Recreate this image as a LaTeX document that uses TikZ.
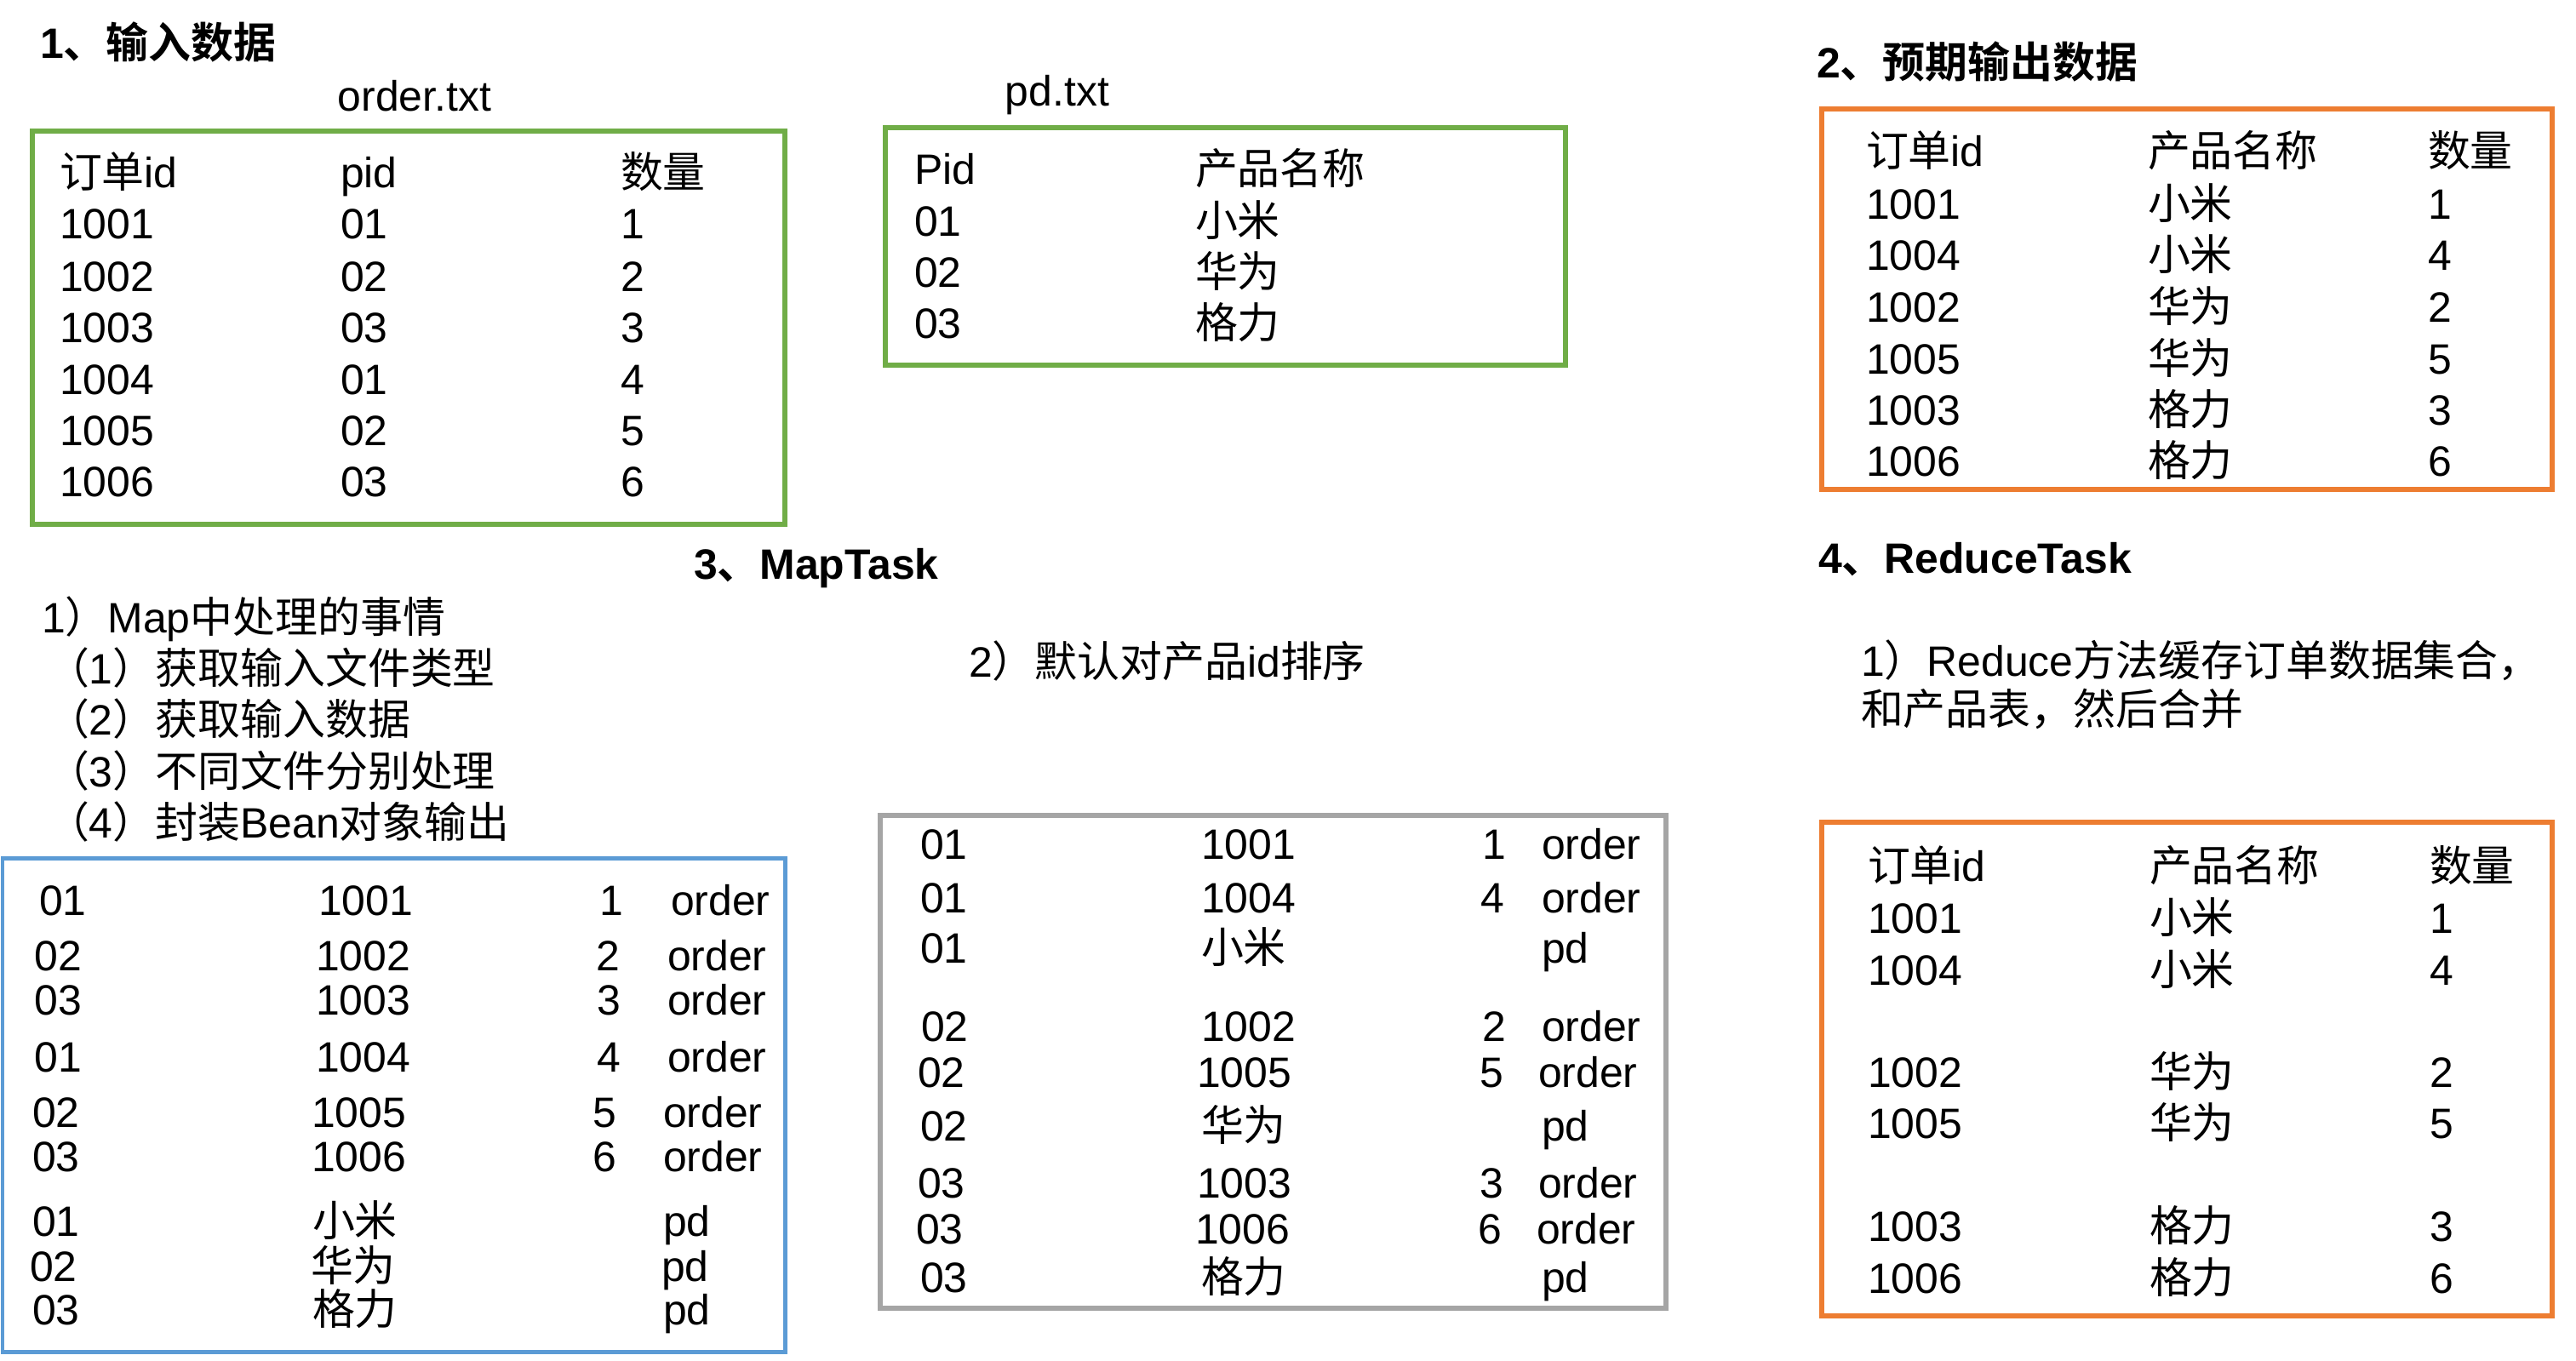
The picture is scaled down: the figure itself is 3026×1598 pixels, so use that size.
\documentclass[tikz,border=0pt]{standalone}
\usepackage{fontspec}
\setmainfont{Liberation Sans}
\newfontfamily\cjk{Noto Sans CJK SC}[BoldFont={Noto Sans CJK SC Bold}]
\newcommand\zh[1]{{\cjk #1}}
\newcommand\fs{\fontsize{14.2pt}{17pt}\selectfont}
\definecolor{cgreen}{HTML}{70AD47}
\definecolor{corange}{HTML}{ED7D31}
\definecolor{cblue}{HTML}{5B9BD5}
\definecolor{cgrey}{HTML}{A5A5A5}
\begin{document}
\begin{tikzpicture}[x=0.1mm,y=-0.1mm,
  txt/.style={anchor=base west, inner sep=0pt, outer sep=0pt, font=\fs},
  ttl/.style={txt, font=\fs\bfseries},
  grnbox/.style={draw=cgreen, line width=0.55mm},
  orgbox/.style={draw=corange, line width=0.55mm},
  blubox/.style={draw=cblue, line width=0.5mm},
  grybox/.style={draw=cgrey, line width=0.55mm}]
\useasboundingbox (0,0) rectangle (3026,1598);

% titles
\node[ttl] (t1) at (47,69) {1\zh{、输入数据}};
\node[ttl] (t2) at (2134,92) {2\zh{、预期输出数据}};
\node[ttl] (t3) at (815,680) {3\zh{、}MapTask};
\node[ttl] (t4) at (2136,673) {4\zh{、}ReduceTask};
\node[txt, anchor=base] (f1) at (487,131) {order.txt};
\node[txt, anchor=base] (f2) at (1242,125) {pd.txt};

% text
\node[txt] (m1) at (49,743) {1\zh{）}Map\zh{中处理的事情}};
\node[txt] (m1a) at (55,803) {\zh{（}1\zh{）获取输入文件类型}};
\node[txt] (m1b) at (55,863) {\zh{（}2\zh{）获取输入数据}};
\node[txt] (m1c) at (55,924) {\zh{（}3\zh{）不同文件分别处理}};
\node[txt] (m1d) at (55,984) {\zh{（}4\zh{）封装}Bean\zh{对象输出}};
\node[txt] (m2) at (1138,795) {2\zh{）默认对产品}id\zh{排序}};
\node[txt] (r1) at (2186,794) {1\zh{）}Reduce\zh{方法缓存订单数据集合，}};
\node[txt] (r2) at (2186,851) {\zh{和产品表，然后合并}};

% order.txt
\draw[grnbox] (38,154) rectangle (922,616);
\foreach \y/\a/\b/\c [count=\i] in {221/\zh{订单}id/pid/\zh{数量},281/1001/01/1,342/1002/02/2,402/1003/03/3,463/1004/01/4,523/1005/02/5,583/1006/03/6}{
  \node[txt] (ord-\i-a) at (70,\y) {\a};
  \node[txt] (ord-\i-b) at (400,\y) {\b};
  \node[txt] (ord-\i-c) at (729,\y) {\c};
}

% pd.txt
\draw[grnbox] (1040,150) rectangle (1839,429);
\foreach \y/\a/\b [count=\i] in {216/Pid/\zh{产品名称},277/01/\zh{小米},337/02/\zh{华为},397/03/\zh{格力}}{
  \node[txt] (pd-\i-a) at (1074,\y) {\a};
  \node[txt] (pd-\i-b) at (1404,\y) {\b};
}

% expected output
\draw[orgbox] (2140,128) rectangle (2998,575);
\foreach \y/\a/\b/\c [count=\i] in {196/\zh{订单}id/\zh{产品名称}/\zh{数量},257/1001/\zh{小米}/1,317/1004/\zh{小米}/4,378/1002/\zh{华为}/2,439/1005/\zh{华为}/5,499/1003/\zh{格力}/3,559/1006/\zh{格力}/6}{
  \node[txt] (exp-\i-a) at (2192,\y) {\a};
  \node[txt] (exp-\i-b) at (2523,\y) {\b};
  \node[txt] (exp-\i-c) at (2852,\y) {\c};
}

% map output
\draw[blubox] (3,1008) rectangle (922,1588);
\foreach \y/\xa/\a/\xb/\b/\xc/\c/\xd [count=\i] in {1075/46/01/374/1001/704/1/788,1140/41/02/371/1002/700/2/784,1192/41/03/371/1003/701/3/784,1259/41/01/371/1004/701/4/784,1324/38/02/366/1005/696/5/779,1376/38/03/366/1006/696/6/779}{
  \node[txt] (mo-\i-a) at (\xa,\y) {\a};
  \node[txt] (mo-\i-b) at (\xb,\y) {\b};
  \node[txt] (mo-\i-c) at (\xc,\y) {\c};
  \node[txt] (mo-\i-d) at (\xd,\y) {order};
}
\foreach \y/\xa/\a/\xb/\b/\xd [count=\i] in {1452/38/01/367/\zh{小米}/779,1505/35/02/365/\zh{华为}/777,1556/38/03/367/\zh{格力}/779}{
  \node[txt] (mp-\i-a) at (\xa,\y) {\a};
  \node[txt] (mp-\i-b) at (\xb,\y) {\b};
  \node[txt] (mp-\i-d) at (\xd,\y) {pd};
}

% sorted
\draw[grybox] (1034,958) rectangle (1957,1537);
\foreach \y/\xa/\a/\xb/\b/\xc/\c/\xd [count=\i] in {1009/1081/01/1411/1001/1741/1/1811,1072/1081/01/1411/1004/1739/4/1811,1223/1082/02/1411/1002/1741/2/1811,1277/1078/02/1406/1005/1738/5/1807,1407/1078/03/1406/1003/1738/3/1807,1461/1076/03/1404/1006/1736/6/1805}{
  \node[txt] (so-\i-a) at (\xa,\y) {\a};
  \node[txt] (so-\i-b) at (\xb,\y) {\b};
  \node[txt] (so-\i-c) at (\xc,\y) {\c};
  \node[txt] (so-\i-d) at (\xd,\y) {order};
}
\foreach \y/\xa/\a/\b [count=\i] in {1131/1081/01/\zh{小米},1340/1081/02/\zh{华为},1518/1081/03/\zh{格力}}{
  \node[txt] (sp-\i-a) at (\xa,\y) {\a};
  \node[txt] (sp-\i-b) at (1411,\y) {\b};
  \node[txt] (sp-\i-d) at (1811,\y) {pd};
}

% reduce
\draw[orgbox] (2140,966) rectangle (2998,1546);
\foreach \y/\a/\b/\c [count=\i] in {1035/\zh{订单}id/\zh{产品名称}/\zh{数量},1096/1001/\zh{小米}/1,1157/1004/\zh{小米}/4,1277/1002/\zh{华为}/2,1337/1005/\zh{华为}/5,1458/1003/\zh{格力}/3,1519/1006/\zh{格力}/6}{
  \node[txt] (red-\i-a) at (2194,\y) {\a};
  \node[txt] (red-\i-b) at (2525,\y) {\b};
  \node[txt] (red-\i-c) at (2854,\y) {\c};
}
\end{tikzpicture}
\end{document}
